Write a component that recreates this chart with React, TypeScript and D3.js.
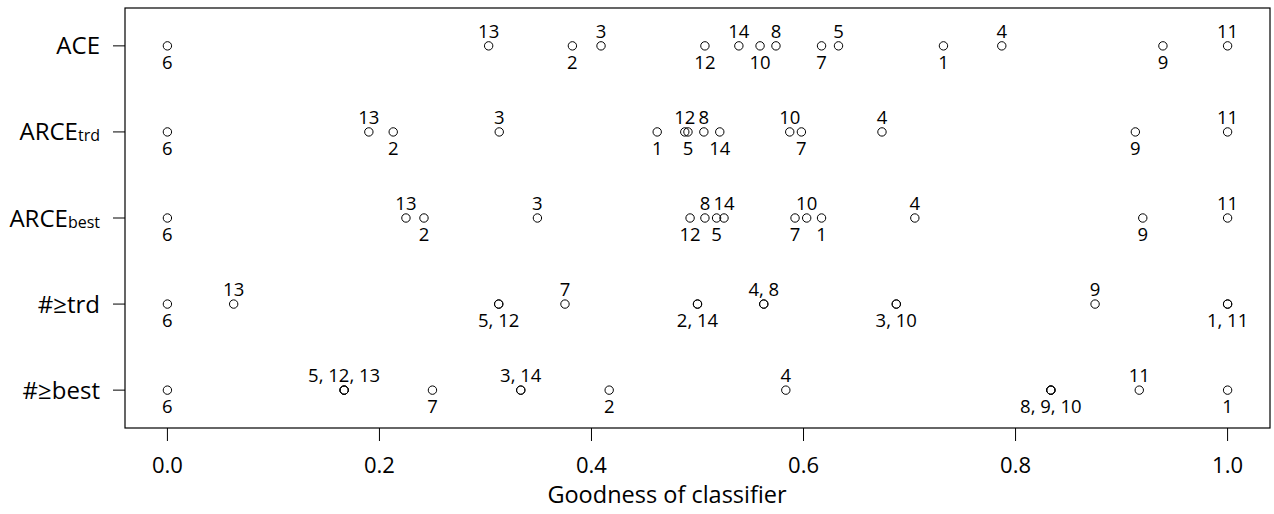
import React from "react";
import * as d3 from "d3";

const classifiers = [1, 2, 3, 4, 5, 6, 7, 8, 9, 10, 11, 12, 13, 14];

// values indexed by classifier 1..14
const aceValues = [0.732, 0.382, 0.409, 0.787, 0.633, 0, 0.617, 0.574, 0.939, 0.559, 1.0, 0.507, 0.303, 0.539];
const arceTrdValues = [0.462, 0.213, 0.313, 0.674, 0.491, 0, 0.598, 0.506, 0.913, 0.587, 1.0, 0.488, 0.19, 0.521];
const arceBestValues = [0.617, 0.242, 0.349, 0.705, 0.518, 0, 0.592, 0.507, 0.92, 0.603, 1.0, 0.493, 0.225, 0.525];
const geTrdValues = [1, 0.5, 0.6875, 0.5625, 0.3125, 0, 0.375, 0.5625, 0.875, 0.6875, 1, 0.3125, 0.0625, 0.5];
const geBestValues = [1, 0.4167, 0.3333, 0.5833, 0.1667, 0, 0.25, 0.8333, 0.8333, 0.8333, 0.9167, 0.1667, 0.1667, 0.3333];

const rowNames = ["ACE", "ARCE", "ARCE", "#≥trd", "#≥best"];
const rowSubs = ["", "trd", "best", "", ""];
const rowValues = [aceValues, arceTrdValues, arceBestValues, geTrdValues, geBestValues];

const xTicks = [0, 0.2, 0.4, 0.6, 0.8, 1.0];
const xTitle = "Goodness of classifier";

const FONT = "'Open Sans', 'DejaVu Sans', sans-serif";

export default function App() {
  const left = 125, right = 1270, top = 8, bottom = 428;
  const x = d3.scaleLinear().domain([-0.04, 1.04]).range([left, right]);
  const y = d3.scaleLinear().domain([0.56, 5.44]).range([bottom, top]);
  const nRows = rowNames.length;

  const rows = rowValues.map((vals, ri) => {
    const rowY = y(nRows - ri);
    const pts = classifiers.map((c, i) => ({ c, v: vals[i] }));
    const groups = d3
      .groups(pts, (p) => Math.round(p.v * 10000))
      .map(([, ps]) => ({ v: ps[0].v, ids: ps.map((p) => p.c).sort((a, b) => a - b) }))
      .sort((a, b) => a.v - b.v);
    return { rowY, pts, groups };
  });

  return (
    <svg width={1274} height={514} style={{ position: "absolute", left: 0, top: 0 }} fontFamily={FONT}>
      <rect x={0} y={0} width={1274} height={514} fill="white" />
      <rect x={left} y={top} width={right - left} height={bottom - top} fill="none" stroke="black" strokeWidth={1.2} />
      {rows.map((r, ri) => (
        <g key={ri}>
          <line x1={left - 12} x2={left} y1={r.rowY} y2={r.rowY} stroke="black" strokeWidth={1} />
          <text x={100} y={r.rowY + 8.5} textAnchor="end" fontSize={24} fill="black">
            {rowNames[ri]}
            {rowSubs[ri] ? <tspan fontSize={16} dy={1}>{rowSubs[ri]}</tspan> : null}
          </text>
          {r.pts.map((p) => (
            <circle key={p.c} cx={x(p.v)} cy={r.rowY} r={4.2} fill="none" stroke="black" strokeWidth={1} />
          ))}
          {r.groups.map((g, gi) => (
            <text
              key={gi}
              x={x(g.v)}
              y={gi % 2 === 0 ? r.rowY + 23 : r.rowY - 8}
              textAnchor="middle"
              fontSize={18.5}
              fill="black"
            >
              {g.ids.join(", ")}
            </text>
          ))}
        </g>
      ))}
      {xTicks.map((t) => (
        <g key={t}>
          <line x1={x(t)} x2={x(t)} y1={bottom} y2={bottom + 13} stroke="black" strokeWidth={1} />
          <text x={x(t)} y={473} textAnchor="middle" fontSize={22} fill="black">
            {d3.format(".1f")(t)}
          </text>
        </g>
      ))}
      <text x={667} y={503} textAnchor="middle" fontSize={23.5} fill="black">
        {xTitle}
      </text>
    </svg>
  );
}
